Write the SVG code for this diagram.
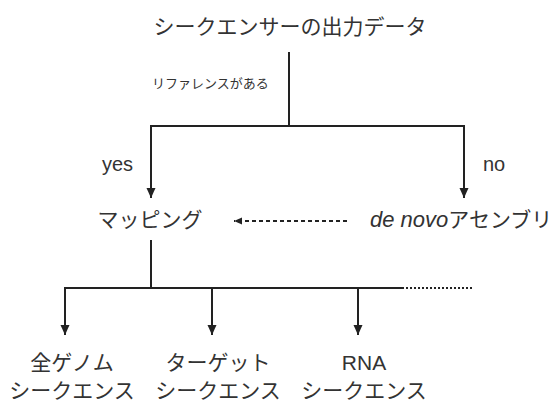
<svg xmlns="http://www.w3.org/2000/svg" width="560" height="403" viewBox="0 0 560 403">
  <style>
    text { font-family: "Noto Sans CJK JP", "Liberation Sans", sans-serif; fill: #333; }
    .big { font-size: 21px; }
    .latin { font-family: "Liberation Sans", "Noto Sans CJK JP", sans-serif; }
    .mid { font-size: 20px; font-family: "Liberation Sans", "Noto Sans CJK JP", sans-serif; }
    .small { font-size: 13px; }
    .ln { stroke: #222; stroke-width: 2; fill: none; }
    .dot { stroke: #222; stroke-width: 2; fill: none; stroke-dasharray: 2 2; }
    .dash { stroke: #222; stroke-width: 1.8; fill: none; stroke-dasharray: 4 3; }
  </style>
  <defs>
    <marker id="arr" markerWidth="10" markerHeight="10" viewBox="0 0 10 10" refX="10" refY="5" orient="auto" markerUnits="userSpaceOnUse">
      <path d="M0,0.5 L10,5 L0,9.5 Z" fill="#222"/>
    </marker>
    <marker id="arrs" markerWidth="8" markerHeight="8" viewBox="0 0 10 10" refX="10" refY="5" orient="auto" markerUnits="userSpaceOnUse">
      <path d="M0,0.5 L10,5 L0,9.5 Z" fill="#222"/>
    </marker>
  </defs>

  <g id="root">
    <text class="big" x="290" y="34" text-anchor="middle">シークエンサーの出力データ</text>
  </g>
  <g id="mapping">
    <text class="big" x="150" y="227" text-anchor="middle">マッピング</text>
  </g>
  <g id="assembly">
    <text class="big" x="370" y="227"><tspan class="latin" font-style="italic" font-size="22">de novo</tspan>アセンブリ</text>
  </g>
  <g id="whole-genome">
    <text class="big" text-anchor="middle"><tspan x="72" y="370">全ゲノム</tspan><tspan x="72" y="398">シークエンス</tspan></text>
  </g>
  <g id="target">
    <text class="big" text-anchor="middle"><tspan x="218" y="370">ターゲット</tspan><tspan x="218" y="398">シークエンス</tspan></text>
  </g>
  <g id="rna">
    <text class="big" text-anchor="middle"><tspan class="latin" x="364" y="370">RNA</tspan><tspan x="364" y="398">シークエンス</tspan></text>
  </g>

  <g id="connectors">
    <!-- decision branch -->
    <line class="ln" x1="289" y1="52" x2="289" y2="126"/>
    <text class="small" x="152" y="88">リファレンスがある</text>
    <line class="ln" x1="150" y1="126" x2="465" y2="126"/>
    <line class="ln" x1="151" y1="125" x2="151" y2="198" marker-end="url(#arr)"/>
    <line class="ln" x1="464" y1="125" x2="464" y2="198" marker-end="url(#arr)"/>
    <text class="mid" x="102" y="171">yes</text>
    <text class="mid" x="483" y="171">no</text>
    <!-- assembly to mapping -->
    <line class="dash" x1="347" y1="221" x2="234" y2="221" marker-end="url(#arrs)"/>
    <!-- mapping to applications -->
    <line class="ln" x1="151" y1="240" x2="151" y2="288"/>
    <line class="ln" x1="64" y1="288" x2="402" y2="288"/>
    <line class="dot" x1="402" y1="288" x2="473" y2="288"/>
    <line class="ln" x1="65" y1="287" x2="65" y2="335" marker-end="url(#arr)"/>
    <line class="ln" x1="212" y1="287" x2="212" y2="335" marker-end="url(#arr)"/>
    <line class="ln" x1="358" y1="287" x2="358" y2="335" marker-end="url(#arr)"/>
  </g>
</svg>
